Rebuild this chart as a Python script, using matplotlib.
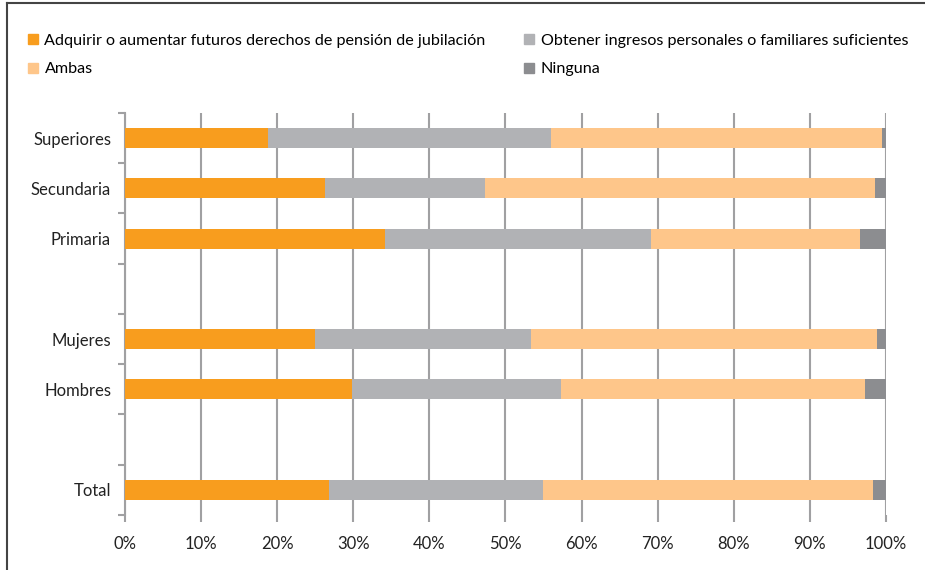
import matplotlib
matplotlib.use("Agg")
import matplotlib.pyplot as plt
from matplotlib.patches import Patch
from matplotlib.lines import Line2D
import numpy as np

plt.rcParams['font.family'] = ['Lato', 'DejaVu Sans']

# ── Data (top to bottom; '' = empty separator slot) ───────────────────────
categories = ["Superiores", "Secundaria", "Primaria", "", "Mujeres", "Hombres", "", "Total"]
adquirir = [18.8, 26.3, 34.2, 0, 25.0, 29.8, 0, 26.8]
obtener  = [37.2, 21.0, 34.9, 0, 28.4, 27.5, 0, 28.1]
ambas    = [43.5, 51.3, 27.5, 0, 45.4, 39.9, 0, 43.4]
ninguna  = [0.5, 1.4, 3.4, 0, 1.2, 2.8, 0, 1.7]

series = ["Adquirir o aumentar futuros derechos de pensión de jubilación",
          "Obtener ingresos personales o familiares suficientes",
          "Ambas", "Ninguna"]
colors = ["#F89D1E", "#B1B2B5", "#FEC68A", "#8C8D90"]

fig = plt.figure(figsize=(9.25, 5.7), dpi=100)
ax = fig.add_axes([0.1351, 0.0965, 0.8227, 0.7053])

n = len(categories)
ypos = np.arange(n)[::-1] + 0.5   # top slot first
left = np.zeros(n)
for vals, col in zip([adquirir, obtener, ambas, ninguna], colors):
    vals = np.array(vals)
    ax.barh(ypos, vals, left=left, height=0.4, color=col, edgecolor="none", zorder=3)
    left += vals

ax.set_xlim(0, 100)
ax.set_ylim(0, n)
ax.set_xticks(np.arange(0, 101, 10))
ax.set_xticklabels([f"{v}%" for v in range(0, 101, 10)], fontsize=12, color="#222222")
ax.set_yticks(ypos)
ax.set_yticklabels(categories, fontsize=12, color="#222222")
ax.tick_params(axis="y", length=0, pad=10)
ax.set_yticks(np.arange(0, n + 1), minor=True)
ax.tick_params(axis="y", which="minor", length=5, color="#A0A0A2", width=1.5)
ax.tick_params(axis="x", length=5, color="#A0A0A2", width=1.5, pad=10)
ax.grid(axis="x", color="#A0A0A2", lw=1.5, zorder=0)
for s in ["top", "right", "bottom"]:
    ax.spines[s].set_visible(False)
ax.spines["left"].set_color("#A0A0A2")
ax.spines["left"].set_linewidth(1.5)

# legend: row-wise order
handles = [Patch(color=c) for c in colors]
order = [0, 2, 1, 3]
fig.legend([handles[i] for i in order], [series[i] for i in order],
           ncol=2, loc="upper left", bbox_to_anchor=(0.015, 0.966),
           frameon=False, fontsize=11.6, handlelength=0.6, handleheight=0.6,
           handletextpad=0.4, columnspacing=2.4, labelspacing=0.9)

# frame lines (top and left)
fig.add_artist(Line2D([0.0076, 1.0], [0.9947, 0.9947], transform=fig.transFigure, color="#444444", lw=1.5))
fig.add_artist(Line2D([0.0076, 0.0076], [0.0, 0.9947], transform=fig.transFigure, color="#444444", lw=1.5))

fig.savefig("out.png", dpi=100)
